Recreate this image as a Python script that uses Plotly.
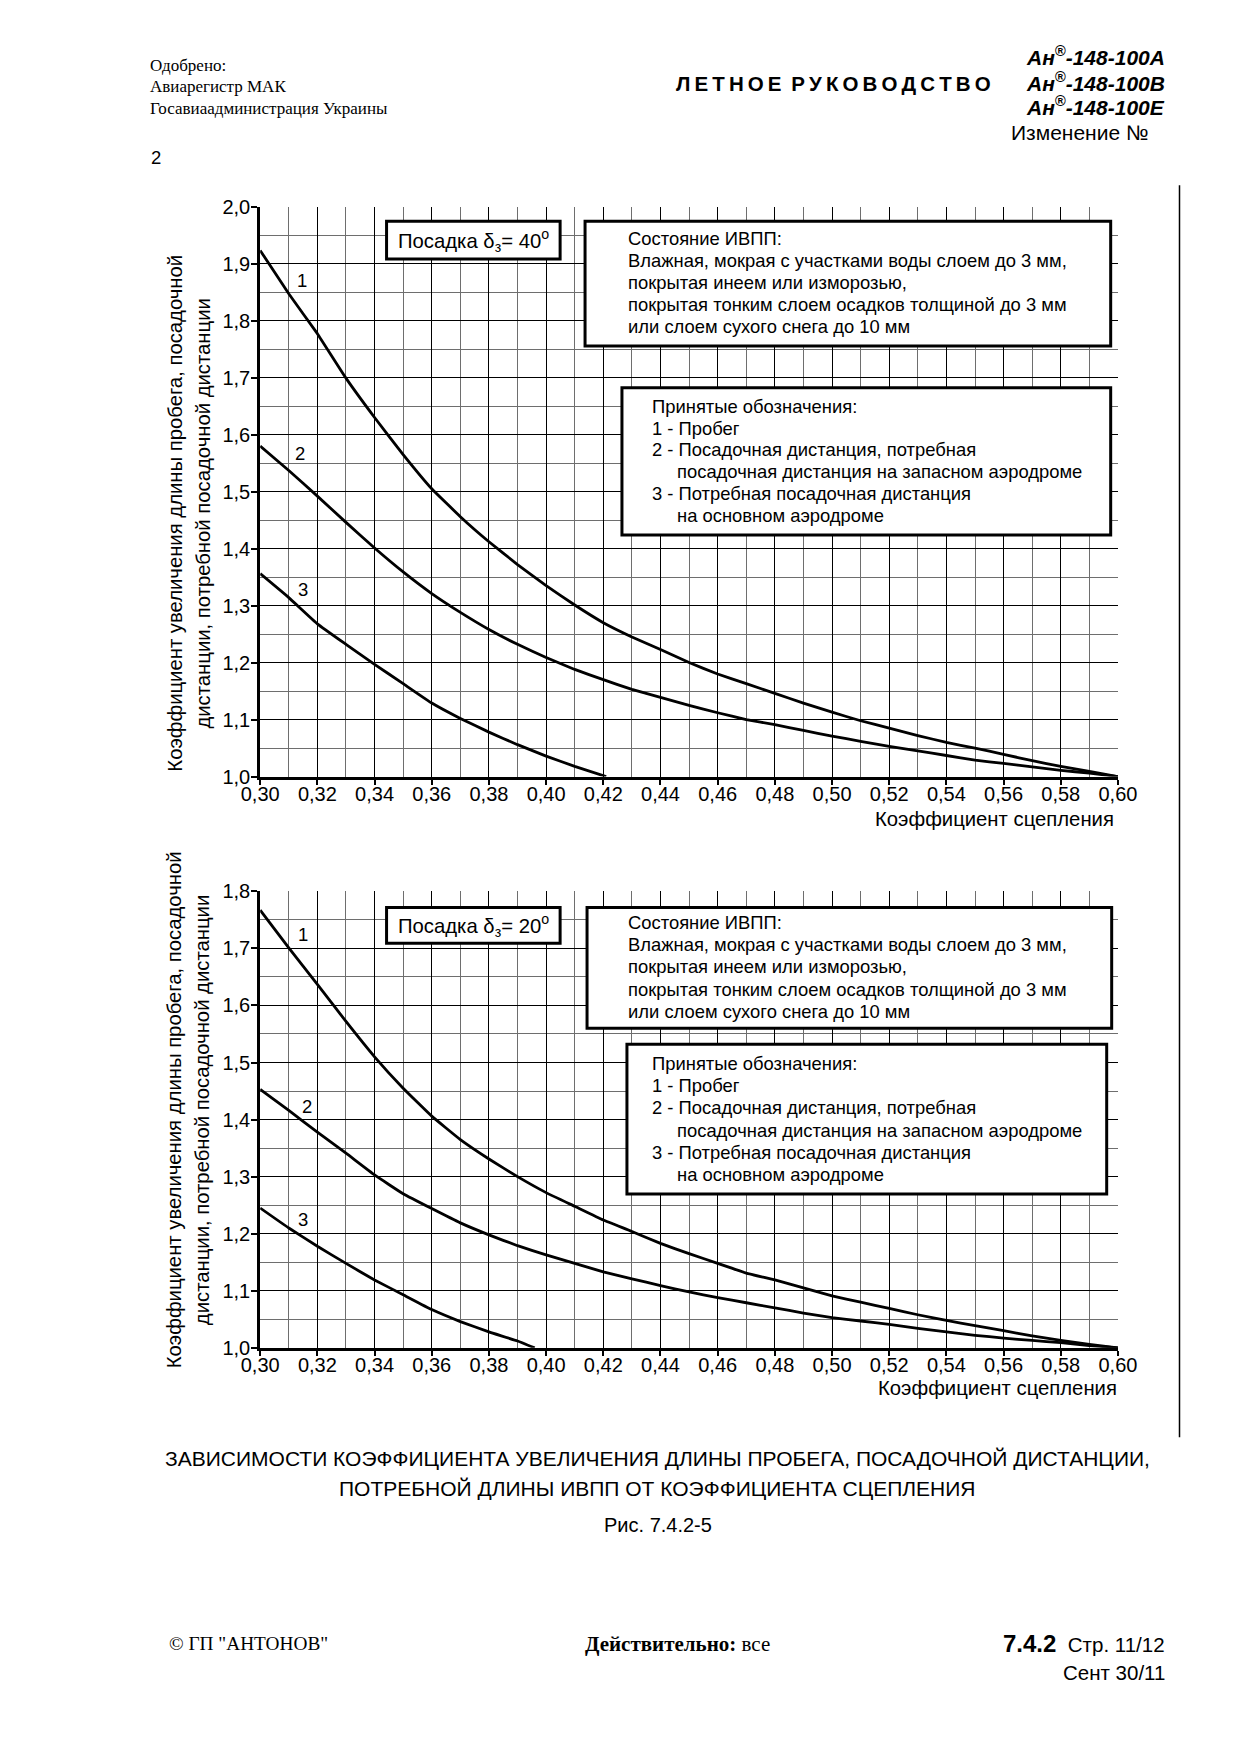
import plotly.graph_objects as go

# figure size (the page is 1241x1755)
FW, FH = 1225, 1739
# measured placement of the figure on the photographed page (page = A*fig + B)
AX, BX = 0.9715, 24.5
AY, BY = 0.9897, 16.3

# ---------------- data ----------------
MU = [0.30, 0.31, 0.32, 0.33, 0.34, 0.35, 0.36, 0.37, 0.38, 0.39, 0.40,
      0.41, 0.42, 0.43, 0.44, 0.45, 0.46, 0.47, 0.48, 0.49, 0.50,
      0.51, 0.52, 0.53, 0.54, 0.55, 0.56, 0.57, 0.58, 0.59, 0.60]

# Flaps 40 deg
TOP_RUN = [1.923, 1.847, 1.777, 1.699, 1.630, 1.565, 1.505, 1.456, 1.412, 1.372, 1.335,
           1.301, 1.270, 1.245, 1.223, 1.200, 1.180, 1.163, 1.146, 1.129, 1.113,
           1.098, 1.085, 1.072, 1.060, 1.050, 1.039, 1.028, 1.018, 1.009, 1.000]
TOP_ALT = [1.580, 1.537, 1.492, 1.446, 1.401, 1.359, 1.321, 1.288, 1.258, 1.232, 1.209,
           1.188, 1.170, 1.153, 1.139, 1.125, 1.112, 1.100, 1.091, 1.081, 1.071,
           1.062, 1.053, 1.045, 1.037, 1.029, 1.023, 1.017, 1.011, 1.006, 1.000]
TOP_MAIN_MU = [0.30, 0.31, 0.32, 0.33, 0.34, 0.35, 0.36, 0.37, 0.38, 0.39, 0.40, 0.41, 0.421]
TOP_MAIN = [1.356, 1.314, 1.268, 1.232, 1.197, 1.163, 1.129, 1.102, 1.078, 1.056, 1.036, 1.018, 1.000]

# Flaps 20 deg
BOT_RUN = [1.767, 1.701, 1.637, 1.572, 1.510, 1.455, 1.406, 1.365, 1.331, 1.300, 1.272,
           1.248, 1.224, 1.204, 1.183, 1.165, 1.148, 1.131, 1.119, 1.105, 1.091,
           1.080, 1.069, 1.058, 1.048, 1.039, 1.030, 1.021, 1.013, 1.006, 1.000]
BOT_ALT = [1.453, 1.416, 1.378, 1.341, 1.303, 1.270, 1.244, 1.219, 1.198, 1.179, 1.163,
           1.148, 1.133, 1.121, 1.109, 1.098, 1.088, 1.079, 1.070, 1.061, 1.053,
           1.047, 1.041, 1.034, 1.028, 1.022, 1.017, 1.013, 1.009, 1.004, 1.000]
BOT_MAIN_MU = [0.30, 0.31, 0.32, 0.33, 0.34, 0.35, 0.36, 0.37, 0.38, 0.39, 0.396]
BOT_MAIN = [1.245, 1.210, 1.178, 1.148, 1.119, 1.093, 1.067, 1.046, 1.028, 1.012, 1.000]

X_RANGE = [0.30, 0.60]
TOP_Y_RANGE = [1.0, 2.0]
BOT_Y_RANGE = [1.0, 1.8]

Y_TITLE_1 = "Коэффициент увеличения длины пробега, посадочной"
Y_TITLE_2 = "дистанции, потребной посадочной дистанции"
X_TITLE = "Коэффициент сцепления"
STATE_LINES = ["Состояние ИВПП:",
               "Влажная, мокрая с участками воды слоем до 3 мм,",
               "покрытая инеем или изморозью,",
               "покрытая тонким слоем осадков толщиной до 3 мм",
               "или слоем сухого снега до 10 мм"]
LEGEND_LINES = [("Принятые обозначения:", 0),
                ("1 - Пробег", 0),
                ("2 - Посадочная дистанция, потребная", 0),
                ("посадочная дистанция на запасном аэродроме", 1),
                ("3 - Потребная посадочная дистанция", 0),
                ("на основном аэродроме", 1)]

SANS = "Liberation Sans, Arial, sans-serif"
SERIF = "Liberation Serif, Times New Roman, serif"


def px(v):
    """target page pixel (x) -> paper fraction"""
    return ((v - BX) / AX) / FW


def py(v):
    """target page pixel (y, from top) -> paper fraction"""
    return 1 - ((v - BY) / AY) / FH


# page-pixel geometry of the two plot areas
XL, XR = 258.3, 1118.3
TOP_T, TOP_B = 204.3, 775.7
BOT_T, BOT_B = 890.7, 1348.3


def dx(v):
    return X_RANGE[0] + (v - XL) / (XR - XL) * (X_RANGE[1] - X_RANGE[0])


def dy_top(v):
    return TOP_Y_RANGE[1] - (v - TOP_T) / (TOP_B - TOP_T) * (TOP_Y_RANGE[1] - TOP_Y_RANGE[0])


def dy_bot(v):
    return BOT_Y_RANGE[1] - (v - BOT_T) / (BOT_B - BOT_T) * (BOT_Y_RANGE[1] - BOT_Y_RANGE[0])


fig = go.Figure()

line_style = dict(color="black", width=2.8, shape="spline", smoothing=0.3)
for xs, ys, xa, ya in [
    (MU, TOP_RUN, "x", "y"), (MU, TOP_ALT, "x", "y"), (TOP_MAIN_MU, TOP_MAIN, "x", "y"),
    (MU, BOT_RUN, "x2", "y2"), (MU, BOT_ALT, "x2", "y2"), (BOT_MAIN_MU, BOT_MAIN, "x2", "y2"),
]:
    fig.add_trace(go.Scatter(x=xs, y=ys, mode="lines", line=line_style,
                             xaxis=xa, yaxis=ya, showlegend=False, hoverinfo="skip"))

tickfont = dict(family=SANS, size=20, color="black")


def xaxis(anchor):
    return dict(domain=[px(XL), px(XR)], range=X_RANGE, anchor=anchor,
                tick0=0.30, dtick=0.02, tickformat=".2f",
                showgrid=True, gridcolor="#000000", gridwidth=1.2,
                minor=dict(tick0=0.30, dtick=0.01, showgrid=True, gridcolor="#6e6e6e", gridwidth=1),
                showline=True, linecolor="black", linewidth=3,
                ticks="outside", ticklen=5, tickwidth=1.5, tickcolor="black",
                ticklabelstandoff=-8,
                tickfont=tickfont, zeroline=False, fixedrange=True)


def yaxis(anchor, dom, rng):
    return dict(domain=dom, range=rng, anchor=anchor,
                tick0=1.0, dtick=0.1, tickformat=".1f",
                showgrid=True, gridcolor="#000000", gridwidth=1.2,
                minor=dict(tick0=1.0, dtick=0.05, showgrid=True, gridcolor="#6e6e6e", gridwidth=1),
                showline=True, linecolor="black", linewidth=3,
                ticks="outside", ticklen=6, tickwidth=1.5, tickcolor="black",
                ticklabelstandoff=-3,
                tickfont=tickfont, zeroline=False, fixedrange=True)


shapes = []
annotations = []


def box(xr, yr, x0, x1, y0, y1):
    shapes.append(dict(type="rect", xref=xr, yref=yr, x0=x0, x1=x1, y0=y0, y1=y1,
                       fillcolor="white", line=dict(color="black", width=3), layer="above"))


def ann(text, x, y, xref="paper", yref="paper", xanchor="left", yanchor="middle",
        size=17, family=SANS, align="left", textangle=0):
    annotations.append(dict(text=text, x=x, y=y, xref=xref, yref=yref, xanchor=xanchor,
                            yanchor=yanchor, showarrow=False, align=align, textangle=textangle,
                            font=dict(family=family, size=size, color="black")))


def panel(xr, yr, dy, b1, b2, b3, angle, st_y0, st_dy, lg_y0, lg_dy, labels):
    # boxes given in page pixels: (left, right, top, bottom)
    for (l, r, t, b) in (b1, b2, b3):
        box(xr, yr, dx(l), dx(r), dy(b), dy(t))
    ann("Посадка δ<sub>з</sub>= " + angle + "<sup>o</sup>", dx((b1[0] + b1[1]) / 2),
        dy((b1[2] + b1[3]) / 2), xr, yr, xanchor="center", size=20.3)
    for i, t in enumerate(STATE_LINES):
        ann(t, dx(625), dy(st_y0 + i * st_dy), xr, yr, size=18.4)
    for i, (t, ind) in enumerate(LEGEND_LINES):
        ann(t, dx(674 if ind else 649), dy(lg_y0 + i * lg_dy), xr, yr, size=18.4)
    for t, (lx, ly) in zip(("1", "2", "3"), labels):
        ann(t, dx(lx), dy(ly), xr, yr, xanchor="center", size=18.5)


panel("x", "y", dy_top,
      (385, 559, 219, 257), (584, 1111, 219, 344), (621, 1111, 386, 533.5), "40",
      236.5, 22.1, 404.5, 21.9,
      [(300.7, 278), (298.3, 451.7), (301.7, 588.3)])
panel("x2", "y2", dy_bot,
      (385, 559, 907, 942.7), (586, 1112, 907, 1028), (626, 1107, 1044, 1194), "20",
      921.5, 22.5, 1063, 22.4,
      [(301.7, 934), (305, 1106), (301.7, 1219.3)])

# ---- axis titles
for yc in (512, 1110):
    ann(Y_TITLE_1, px(172), py(yc), xanchor="center", size=20.3, textangle=-90)
    ann(Y_TITLE_2, px(200), py(yc), xanchor="center", size=20.3, textangle=-90)
ann(X_TITLE, px(1116), py(818), xanchor="right", size=20.3)
ann(X_TITLE, px(1119), py(1389), xanchor="right", size=20.3)

# ---- page header
ann("Одобрено:", px(146), py(63), size=17, family=SERIF)
ann("Авиарегистр МАК", px(146), py(84), size=17, family=SERIF)
ann("Госавиаадминистрация Украины", px(146), py(106), size=17, family=SERIF)
sp = "\u2009"
title = sp.join(list("ЛЕТНОЕ")) + " " + sp + sp.join(list("РУКОВОДСТВО"))
ann("<b>" + title + "</b>", px(993), py(81), xanchor="right", size=20.5)
for yy, suf in ((53, "A"), (79, "B"), (104, "E")):
    ann("<b><i>Ан<sup>®</sup>-148-100" + suf + "</i></b>", px(1167), py(yy), xanchor="right", size=21)
ann("Изменение №", px(1150), py(130), xanchor="right", size=21)
ann("2", px(147), py(155), size=18.5)

# ---- caption
ann("ЗАВИСИМОСТИ КОЭФФИЦИЕНТА УВЕЛИЧЕНИЯ ДЛИНЫ ПРОБЕГА, ПОСАДОЧНОЙ ДИСТАНЦИИ,",
    px(657), py(1459), xanchor="center", size=21)
ann("ПОТРЕБНОЙ ДЛИНЫ ИВПП ОТ КОЭФФИЦИЕНТА СЦЕПЛЕНИЯ",
    px(657), py(1489), xanchor="center", size=21)
ann("Рис. 7.4.2-5", px(657), py(1526), xanchor="center", size=20)

# ---- footer
ann("© ГП \"АНТОНОВ\"", px(165), py(1645), size=19.3, family=SERIF)
ann("<b>Действительно:</b> все", px(677), py(1645), xanchor="center", size=21, family=SERIF)
ann("<b><span style='font-size:24px'>7.4.2</span></b>  Стр. 11/12", px(1167), py(1645),
    xanchor="right", size=20.5)
ann("Сент 30/11", px(1167), py(1674), xanchor="right", size=20.5)

# right margin bar
shapes.append(dict(type="line", xref="paper", yref="paper", x0=px(1180), x1=px(1180),
                   y0=py(183), y1=py(1438), line=dict(color="black", width=1.5)))

fig.update_layout(
    width=FW, height=FH, autosize=False,
    margin=dict(l=0, r=0, t=0, b=0, pad=0),
    paper_bgcolor="white", plot_bgcolor="white",
    separators=",.",
    showlegend=False,
    xaxis=xaxis("y"),
    yaxis=yaxis("x", [py(TOP_B), py(TOP_T)], TOP_Y_RANGE),
    xaxis2=xaxis("y2"),
    yaxis2=yaxis("x2", [py(BOT_B), py(BOT_T)], BOT_Y_RANGE),
    shapes=shapes,
    annotations=annotations,
)

fig.write_html("out.html")
